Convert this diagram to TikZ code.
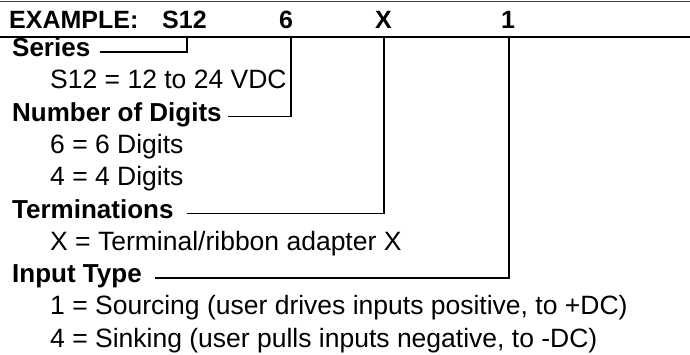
\documentclass[tikz,border=0pt]{standalone}
\usepackage{fontspec}
\setmainfont{Liberation Sans}
\begin{document}
\begin{tikzpicture}[x=1pt,y=-1pt,
    title/.style={anchor=base west,inner sep=0pt,font=\fontsize{25}{30}\selectfont\bfseries},
    head/.style={anchor=base west,inner sep=0pt,font=\fontsize{26}{30}\selectfont\bfseries},
    item/.style={anchor=base west,inner sep=0pt,font=\fontsize{26.5}{30}\selectfont},
    lead/.style={line width=1.5pt}]
  \useasboundingbox (0,0) rectangle (690,354);
  % rules
  \draw[line width=1.6pt,black!75] (0,1.5) -- (690,1.5);
  \draw[line width=2pt] (0,36.5) -- (690,36.5);

  % header line
  \node[title] (ex)  at (9,28)   {EXAMPLE:};
  \node[title] (s12) at (162,28) {S12};
  \node[title] (six) at (279,28) {6};
  \node[title] (xx)  at (375,28) {X};
  \node[title] (one) at (501,28) {1};
  \coordinate (tS)   at (187,36.5);
  \coordinate (tSix) at (291,36.5);
  \coordinate (tX)   at (384,36.5);
  \coordinate (tOne) at (509,36.5);

  % fields
  \node[head] (series) at (12,56.5)  {Series};
  \node[item] (s12v)   at (50,88.8)  {S12 = 12 to 24 VDC};
  \node[head] (digits) at (12,121.1) {Number of Digits};
  \node[item] (dig6)   at (50,153.4) {6 = 6 Digits};
  \node[item] (dig4)   at (50,185.7) {4 = 4 Digits};
  \node[head] (term)   at (12,218)   {Terminations};
  \node[item] (termx)  at (50,250.3) {X = Terminal/ribbon adapter X};
  \node[head] (input)  at (12,282.6) {Input Type};
  \node[item] (in1)    at (50,314.9) {1 = Sourcing (user drives inputs positive, to +DC)};
  \node[item] (in4)    at (50,347.2) {4 = Sinking (user pulls inputs negative, to -DC)};

  % leaders
  \draw[lead] ([shift={(10,-4.5)}]series.base east) -| (tS);
  \draw[lead] ([shift={(6,-4.5)}]digits.base east)  -| (tSix);
  \draw[lead] ([shift={(13,-4.5)}]term.base east)   -| (tX);
  \draw[lead] ([shift={(13,-4.5)}]input.base east)  -| (tOne);
\end{tikzpicture}
\end{document}
